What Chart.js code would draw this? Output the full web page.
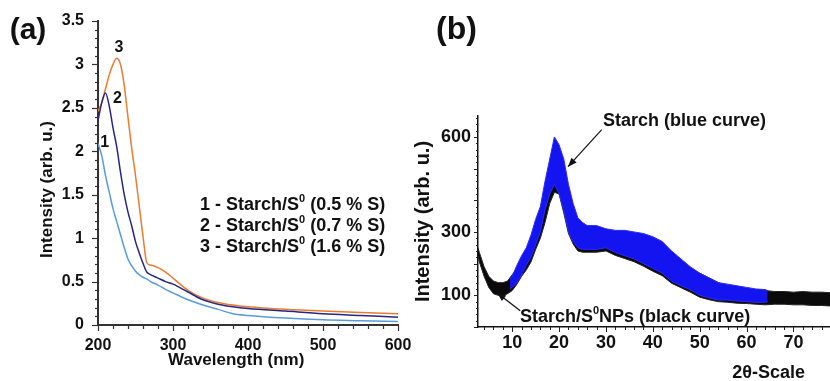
<!DOCTYPE html>
<html><head><meta charset="utf-8">
<script src="https://cdn.jsdelivr.net/npm/chart.js@4.4.1/dist/chart.umd.min.js"></script>
<style>
html,body{margin:0;padding:0;background:#fff;overflow:hidden;width:830px;height:381px}
#ca{position:absolute;left:0;top:0}
#cb{position:absolute;left:405px;top:0}
</style></head><body>
<canvas id="ca" width="415" height="381"></canvas>
<canvas id="cb" width="425" height="381"></canvas>
<script>
// ---------- Panel (a): UV-Vis ----------
const wavelengths = [200,205,210,215,220,225,230,235,240,245,250,255,260,265,270,280,290,300,320,340,360,380,400,450,500,550,600];
const uvS05 = [2.09,1.95,1.72,1.53,1.34,1.19,1.04,0.89,0.76,0.68,0.62,0.58,0.55,0.53,0.50,0.46,0.41,0.37,0.29,0.23,0.18,0.13,0.11,0.08,0.06,0.05,0.04];
const uvS07 = [2.35,2.56,2.67,2.52,2.27,2.05,1.76,1.50,1.30,1.14,0.96,0.83,0.71,0.61,0.58,0.54,0.50,0.47,0.38,0.29,0.24,0.21,0.19,0.16,0.13,0.11,0.09];
const uvS16 = [2.46,2.56,2.72,2.88,3.00,3.07,3.00,2.76,2.39,2.03,1.72,1.37,1.02,0.72,0.69,0.66,0.61,0.54,0.40,0.31,0.26,0.23,0.21,0.18,0.16,0.145,0.13];
const uvLegend = [["1 - Starch/S","0"," (0.5 % S)"],["2 - Starch/S","0"," (0.7 % S)"],["3 - Starch/S","0"," (1.6 % S)"]];
const uvCurveNumbers = ["1","2","3"];

// ---------- Panel (b): XRD ----------
const xrdBlackTheta = [2.7,3,4,5,6,7,8,9,10,11,12,13,14,15,16,17,18,19,20,21,22,23,24,25,26,28,30,32,34,36,38,40,42,44,46,48,50,52,54,56,58,60,62,64,66,68,70,72,74,76,78];
const xrdBlackUpper = [250,235,190,160,145,140,140,145,165,185,215,240,275,315,365,420,470,505,495,465,420,360,320,300,295,290,290,285,285,275,265,255,240,225,205,185,170,155,140,130,125,120,118,115,112,112,110,112,110,110,108];
const xrdBlackLower = [225,205,160,125,105,100,98,105,115,135,160,180,205,245,280,330,390,425,420,360,295,262,240,236,236,236,240,226,216,206,192,176,162,138,124,110,94,86,80,78,75,74,72,70,72,72,70,70,68,68,66];
const xrdBlueTheta = [9.5,10,11,12,13,14,15,16,17,18,19,20,21,22,23,24,25,26,28,30,32,34,36,38,40,42,44,46,48,50,52,54,56,58,60,62,64,64.5];
const xrdBlueUpper = [150,160,195,225,250,290,340,380,460,530,600,575,530,450,390,345,330,320,320,310,305,305,300,295,285,270,240,215,190,170,155,140,135,130,125,120,118,115];
const xrdBlueLower = [120,125,140,165,195,220,260,300,370,420,450,420,370,300,270,250,245,245,245,250,235,225,215,200,185,170,145,130,118,100,92,85,85,82,80,78,78,80];
const xrdYLabels = [100,300,600];
const xrdXLabels = [10,20,30,40,50,60,70];

const FONT = "'Liberation Sans', Arial, Helvetica, sans-serif";
const pts = (xs, ys) => xs.map((x, i) => ({x, y: ys[i]}));

function drawRich(ctx, parts, x, y, size) {
  let cx = x;
  parts.forEach((p, i) => {
    const sup = i % 2 === 1;
    ctx.font = "bold " + (sup ? Math.round(size * 0.62) : size) + "px " + FONT;
    ctx.fillText(p, cx, sup ? y - size * 0.32 : y);
    cx += ctx.measureText(p).width;
  });
}
function arrow(ctx, x1, y1, x2, y2) {
  ctx.beginPath(); ctx.moveTo(x1, y1); ctx.lineTo(x2, y2); ctx.stroke();
  const a = Math.atan2(y2 - y1, x2 - x1), L = 9, W = 3.5;
  ctx.beginPath();
  ctx.moveTo(x2, y2);
  ctx.lineTo(x2 - L * Math.cos(a) + W * Math.sin(a), y2 - L * Math.sin(a) - W * Math.cos(a));
  ctx.lineTo(x2 - L * Math.cos(a) - W * Math.sin(a), y2 - L * Math.sin(a) + W * Math.cos(a));
  ctx.closePath(); ctx.fill();
}

const uvDecor = {
  id: 'uvDecor',
  afterDraw(chart) {
    const ctx = chart.ctx, xs = chart.scales.x, ys = chart.scales.y;
    ctx.save();
    ctx.strokeStyle = '#333'; ctx.lineWidth = 1.2;
    for (let k = 0; k <= 35; k++) {
      const py = Math.round(ys.getPixelForValue(k / 10)) + 0.5;
      const len = k % 5 === 0 ? 6 : 3;
      ctx.beginPath(); ctx.moveTo(xs.left - len, py); ctx.lineTo(xs.left, py); ctx.stroke();
    }
    for (let w = 200; w <= 600; w += 20) {
      const px = Math.round(xs.getPixelForValue(w)) + 0.5;
      const len = w % 100 === 0 ? 6 : 4;
      ctx.beginPath(); ctx.moveTo(px, ys.bottom); ctx.lineTo(px, ys.bottom + len); ctx.stroke();
    }
    ctx.fillStyle = '#111';
    ctx.textBaseline = 'middle'; ctx.textAlign = 'center';
    ctx.font = "bold 16px " + FONT;
    const numPos = [[209, 2.10], [226, 2.61], [228, 3.19]];
    uvCurveNumbers.forEach((t, i) => ctx.fillText(t, xs.getPixelForValue(numPos[i][0]), ys.getPixelForValue(numPos[i][1])));
    ctx.textAlign = 'left';
    const lx = xs.getPixelForValue(336), ly = ys.getPixelForValue(1.38);
    uvLegend.forEach((parts, i) => drawRich(ctx, parts, lx, ly + i * 21, 18));
    ctx.font = "bold 30px " + FONT; ctx.textAlign = 'center';
    ctx.fillText("(a)", 28, 31);
    ctx.restore();
  }
};

new Chart(document.getElementById('ca'), {
  type: 'line',
  data: { datasets: [
    { label: '1 - Starch/S0 (0.5 % S)', data: pts(wavelengths, uvS05), borderColor: '#5b9bd5', borderWidth: 1.5, pointRadius: 0, cubicInterpolationMode: 'monotone', fill: false },
    { label: '2 - Starch/S0 (0.7 % S)', data: pts(wavelengths, uvS07), borderColor: '#27277f', borderWidth: 1.5, pointRadius: 0, cubicInterpolationMode: 'monotone', fill: false },
    { label: '3 - Starch/S0 (1.6 % S)', data: pts(wavelengths, uvS16), borderColor: '#e97c34', borderWidth: 1.5, pointRadius: 0, cubicInterpolationMode: 'monotone', fill: false }
  ]},
  options: {
    responsive: false, animation: false, devicePixelRatio: 1,
    layout: { padding: { top: 21, right: 17, bottom: 0, left: 0 } },
    plugins: { legend: { display: false }, tooltip: { enabled: false } },
    scales: {
      x: { type: 'linear', min: 200, max: 600,
        ticks: { stepSize: 100, color: '#111', font: { family: FONT, size: 16, weight: 'bold' }, padding: 11, maxRotation: 0 },
        grid: { display: false, drawTicks: false }, border: { color: '#333', width: 2 },
        title: { display: true, text: 'Wavelength (nm)     ', color: '#111', font: { family: FONT, size: 17, weight: 'bold' }, padding: { top: 0, bottom: 10 } },
        afterFit(s) { s.height = 56; s.paddingLeft = 0; s.paddingRight = 0; } },
      y: { min: 0, max: 3.5,
        ticks: { stepSize: 0.5, color: '#111', font: { family: FONT, size: 16, weight: 'bold' }, padding: 14,
          callback: v => String(Math.round(v * 10) / 10) },
        grid: { display: false, drawTicks: false }, border: { color: '#333', width: 2 },
        title: { display: true, text: 'Intensity (arb. u.)       ', color: '#111', font: { family: FONT, size: 17, weight: 'bold' }, padding: { top: 37, bottom: 0 } },
        afterFit(s) { s.width = 98; s.paddingTop = 0; s.paddingBottom = 0; } }
    }
  },
  plugins: [uvDecor]
});

const xrdDecor = {
  id: 'xrdDecor',
  afterDraw(chart) {
    const ctx = chart.ctx, xs = chart.scales.x, ys = chart.scales.y;
    ctx.save();
    ctx.strokeStyle = '#222'; ctx.lineWidth = 1;
    for (let v = 0; v <= 660; v += 20) {
      const py = Math.round(ys.getPixelForValue(v)) + 0.5;
      const len = v % 100 === 0 ? 4 : 2;
      ctx.beginPath(); ctx.moveTo(xs.left - len, py); ctx.lineTo(xs.left, py); ctx.stroke();
    }
    for (let t = 4; t <= 78; t += 2) {
      const px = Math.round(xs.getPixelForValue(t)) + 0.5;
      const len = t % 10 === 0 ? 5 : 3;
      ctx.beginPath(); ctx.moveTo(px, ys.bottom); ctx.lineTo(px, ys.bottom + len); ctx.stroke();
    }
    ctx.fillStyle = '#111'; ctx.strokeStyle = '#111'; ctx.lineWidth = 1.2;
    ctx.textBaseline = 'middle'; ctx.textAlign = 'left';
    ctx.font = "bold 18px " + FONT;
    ctx.fillText("Starch (blue curve)", xs.getPixelForValue(29.35), ys.getPixelForValue(649));
    arrow(ctx, xs.getPixelForValue(29.1), ys.getPixelForValue(623), xs.getPixelForValue(21.9), ys.getPixelForValue(506));
    drawRich(ctx, ["Starch/S", "0", "NPs (black curve)"], xs.getPixelForValue(11.65), ys.getPixelForValue(33), 18);
    arrow(ctx, xs.getPixelForValue(11.7), ys.getPixelForValue(51), xs.getPixelForValue(6.75), ys.getPixelForValue(108));
    ctx.font = "bold 32px " + FONT; ctx.textAlign = 'center';
    ctx.fillText("(b)", 51.5, 30);
    ctx.restore();
  }
};

new Chart(document.getElementById('cb'), {
  type: 'line',
  data: { datasets: [
    { label: 'Starch lower', data: pts(xrdBlueTheta, xrdBlueLower), borderColor: '#2a2aff', borderWidth: 1, pointRadius: 0, tension: 0, fill: false },
    { label: 'Starch (blue curve)', data: pts(xrdBlueTheta, xrdBlueUpper), borderColor: '#2a2aff', backgroundColor: '#1414f0', borderWidth: 1, pointRadius: 0, tension: 0, fill: '-1' },
    { label: 'Starch/S0NPs lower', data: pts(xrdBlackTheta, xrdBlackLower), borderColor: '#222', borderWidth: 1, pointRadius: 0, tension: 0, fill: false },
    { label: 'Starch/S0NPs (black curve)', data: pts(xrdBlackTheta, xrdBlackUpper), borderColor: '#222', backgroundColor: '#0a0a0a', borderWidth: 1, pointRadius: 0, tension: 0, fill: '-1' }
  ]},
  options: {
    responsive: false, animation: false, devicePixelRatio: 1,
    layout: { padding: { top: 116, right: 0, bottom: 0, left: 0 } },
    plugins: { legend: { display: false }, tooltip: { enabled: false } },
    scales: {
      x: { type: 'linear', min: 2.7, max: 77.8,
        ticks: { stepSize: 10, includeBounds: false, color: '#111', font: { family: FONT, size: 18, weight: 'bold' }, padding: 5, maxRotation: 0, autoSkip: false,
          callback: v => xrdXLabels.includes(v) ? String(v) : '' },
        grid: { display: false, drawTicks: false }, border: { color: '#111', width: 1.5 },
        title: { display: true, text: '2θ-Scale     ', align: 'end', color: '#111', font: { family: FONT, size: 18, weight: 'bold', lineHeight: 0.9 }, padding: 0 },
        afterFit(s) { s.height = 54; s.paddingLeft = 0; s.paddingRight = 0; } },
      y: { min: 0, max: 666,
        ticks: { stepSize: 100, includeBounds: false, color: '#111', font: { family: FONT, size: 18, weight: 'bold' }, padding: 7, autoSkip: false,
          callback: v => xrdYLabels.includes(v) ? String(v) : '' },
        grid: { display: false, drawTicks: false }, border: { color: '#111', width: 1.5 },
        title: { display: true, text: 'Intensity (arb. u.)', color: '#111', font: { family: FONT, size: 20, weight: 'bold' }, padding: { top: 6, bottom: 0 } },
        afterFit(s) { s.width = 73; s.paddingTop = 0; s.paddingBottom = 0; } }
    }
  },
  plugins: [xrdDecor]
});
</script>
</body></html>
